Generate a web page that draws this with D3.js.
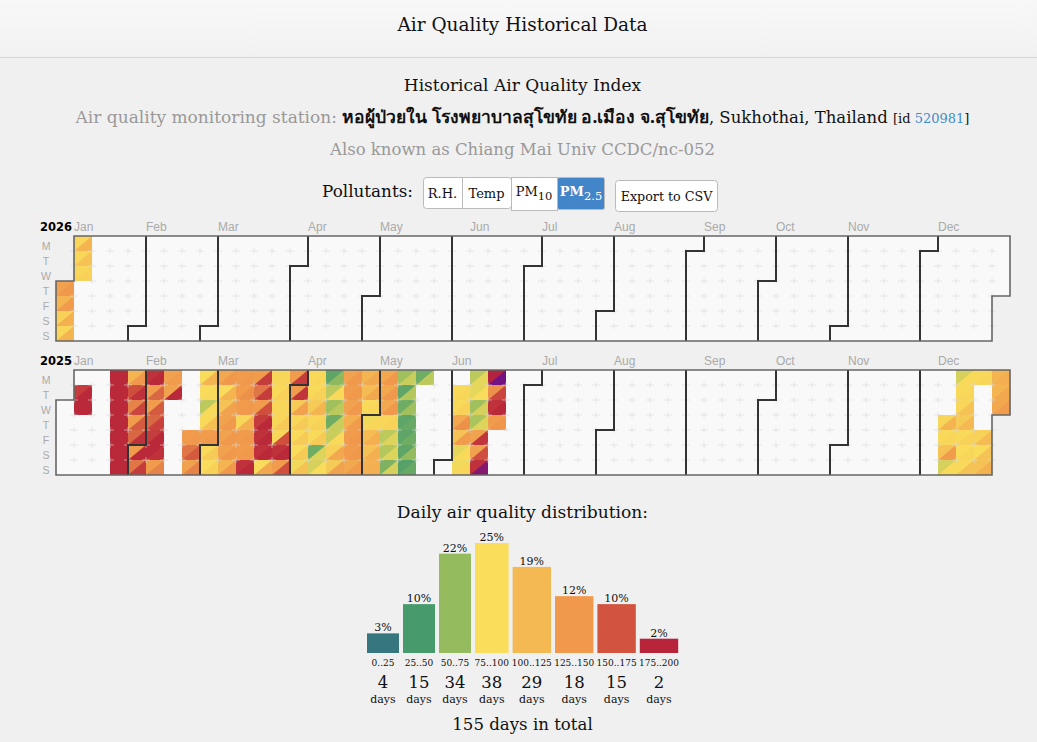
<!DOCTYPE html>
<html>
<head>
<meta charset="utf-8">
<script src="https://cdn.jsdelivr.net/npm/d3@7"></script>
<style>
  html, body { margin: 0; padding: 0; background: #f0f0f0; overflow: hidden; }
  svg { display: block; }
  .serif { font-family: "DejaVu Serif", "Liberation Serif", serif; }
  .sans { font-family: "Liberation Sans", Arial, sans-serif; }
</style>
</head>
<body>
<div id="chart"></div>
<script>
// Data. Each week is Monday..Sunday, null = no reading
const noWeek = [null, null, null, null, null, null, null];

const upper2026 = [
  [null, null, null, 130, 115, 95, 92],
  [92, 92, 92, null, null, null, null],
];
const lower2026 = [
  [null, null, null, 137, 135, 120, 115],
  [115, 105, 95, null, null, null, null],
];

const upper2025 = [
  noWeek,
  [null, 175, 185, null, null, null, null],
  noWeek,
  [185, 185, 185, 185, 185, 185, 185],
  [115, 165, 145, 135, 155, 135, 150],
  [180, 135, 135, 155, 175, 185, 135],
  [130, 130, null, null, null, null, null],
  [null, null, null, null, 135, 150, 130],
  [88, 88, 72, 90, 135, 90, 88],
  [125, 88, 105, 130, 130, 130, 115],
  [135, 135, 135, 92, 135, 135, 180],
  [135, 150, 135, 175, 180, 180, 88],
  [92, 90, 92, 92, 92, 180, 135],
  [135, 135, 100, 92, 90, 88, 85],
  [90, 90, 100, 92, 90, 50, 78],
  [45, 72, 65, 50, 75, 95, 100],
  [130, 135, 130, 120, 135, 135, 125],
  [115, 110, 90, 85, 110, 105, 118],
  [125, 125, 125, 92, 72, 70, 55],
  [65, 45, 50, 45, 45, 45, 42],
  [50, null, null, null, null, null, null],
  noWeek,
  [null, 90, 90, 125, 105, 82, 85],
  [72, 82, 65, 68, 130, 130, 180],
  [190, 140, 180, 135, null, null, null],
  ...d3.range(24).map(() => noWeek),
  [null, null, null, 92, 90, 105, 78],
  [78, 90, 92, 100, 90, 88, 90],
  [90, null, null, null, 95, 88, 105],
  [115, 115, 125, null, null, null, null],
];
const lower2025 = [
  noWeek,
  [null, 185, 185, null, null, null, null],
  noWeek,
  [185, 185, 185, 185, 185, 185, 185],
  [137, 180, 170, 160, 180, 185, 175],
  [185, 155, 160, 172, 185, 180, 145],
  [135, 185, null, null, null, null, null],
  [null, null, null, null, 137, 160, 145],
  [115, 90, 90, 108, 137, 100, 95],
  [137, 115, 130, 137, 137, 137, 137],
  [137, 140, 137, 120, 137, 137, 185],
  [175, 175, 165, 185, 185, 185, 125],
  [92, 95, 92, 100, 165, 185, 165],
  [175, 178, 130, 100, 100, 100, 105],
  [92, 95, 115, 95, 100, 80, 88],
  [60, 90, 72, 75, 90, 125, 130],
  [137, 137, 137, 135, 137, 137, 135],
  [125, 125, 92, 92, 120, 120, 120],
  [137, 137, 137, 95, 80, 80, 78],
  [75, 70, 65, 48, 50, 62, 48],
  [72, null, null, null, null, null, null],
  noWeek,
  [null, 92, 95, 140, 135, 90, 92],
  [82, 88, 78, 80, 178, 165, 215],
  [225, 170, 185, 138, null, null, null],
  ...d3.range(24).map(() => noWeek),
  [null, null, null, 115, 92, 135, 90],
  [90, 92, 105, 112, 95, 92, 105],
  [92, null, null, null, 110, 105, 118],
  [120, 125, 135, null, null, null, null],
];

const weekdayLabels = ["M", "T", "W", "T", "F", "S", "S"];
const monthLabels = ["Jan", "Feb", "Mar", "Apr", "May", "Jun", "Jul", "Aug", "Sep", "Oct", "Nov", "Dec"];

const binLabels = ["0..25", "25..50", "50..75", "75..100", "100..125", "125..150", "150..175", "175..200"];
const binDays = [4, 15, 34, 38, 29, 18, 15, 2];
const binPercent = [3, 10, 22, 25, 19, 12, 10, 2];
const binColors = ["#35767f", "#469a6b", "#94bc5e", "#f9dd5b", "#f4b952", "#f0994c", "#d2543f", "#b8253a"];

const aqiStops = [12, 37, 62, 87, 112, 137, 162, 187, 230];
const aqiColors = [...binColors, "#6a0f8c"];

// Page setup
const width = 1037;
const height = 742;

const svg = d3.select("#chart").append("svg")
  .attr("width", width)
  .attr("height", height);

const gradient = svg.append("defs").append("linearGradient")
  .attr("id", "head")
  .attr("x1", 0).attr("x2", 0).attr("y1", 0).attr("y2", 1);
gradient.append("stop").attr("offset", "0%").attr("stop-color", "#f8f8f8");
gradient.append("stop").attr("offset", "100%").attr("stop-color", "#f1f1f1");

svg.append("rect").attr("width", width).attr("height", 57).attr("fill", "url(#head)");
svg.append("line").attr("x1", 0).attr("x2", width).attr("y1", 57.5).attr("y2", 57.5).attr("stroke", "#d4d4d4");

function label(x, y, text, size, color, cls) {
  return svg.append("text")
    .attr("class", cls || "serif")
    .attr("x", x).attr("y", y)
    .attr("text-anchor", "middle")
    .attr("font-size", size)
    .attr("fill", color || "#111")
    .text(text);
}

// Titles
label(522.5, 31, "Air Quality Historical Data", 18.5);
label(522.5, 91, "Historical Air Quality Index", 17);

const station = label(522.5, 123, "", 17, "#999");
station.append("tspan").text("Air quality monitoring station: ");
station.append("tspan").attr("fill", "#111").attr("font-size", 17.5).attr("font-family", "'Noto Sans', 'DejaVu Sans', sans-serif").attr("font-weight", "bold").text("หอผู้ป่วยใน โรงพยาบาลสุโขทัย อ.เมือง จ.สุโขทัย");
station.append("tspan").attr("fill", "#111").attr("font-size", 16.5).text(", Sukhothai, Thailand ");
station.append("tspan").attr("fill", "#111").attr("font-size", 13).text("[id ");
station.append("tspan").attr("fill", "#428bca").attr("font-size", 13).text("520981");
station.append("tspan").attr("fill", "#111").attr("font-size", 13).text("]");

label(522.5, 155, "Also known as Chiang Mai Univ CCDC/nc-052", 16.5, "#999");

// Pollutant buttons
label(367.5, 197, "Pollutants:", 16.8);

const buttonEdges = [423, 462, 511, 557, 605];
const buttonNames = [["R.H.", ""], ["Temp", ""], ["PM", "10"], ["PM", "2.5"]];

svg.append("rect")
  .attr("x", 423.5).attr("y", 177.5).attr("width", 88).attr("height", 31).attr("rx", 3)
  .attr("fill", "#fff").attr("stroke", "#bbb");
svg.append("line")
  .attr("x1", 462.5).attr("x2", 462.5).attr("y1", 178).attr("y2", 208).attr("stroke", "#bbb");
svg.append("rect")
  .attr("x", 511.5).attr("y", 177.5).attr("width", 46).attr("height", 33).attr("fill", "#fff").attr("stroke", "#bbb");
svg.append("rect")
  .attr("x", 557.5).attr("y", 177.5).attr("width", 47).attr("height", 32).attr("rx", 2).attr("fill", "#4285c9").attr("stroke", "#bbb");

buttonNames.forEach(([name, sub], i) => {
  const mid = (buttonEdges[i] + buttonEdges[i + 1]) / 2;
  const active = i === 3;
  const t = label(mid, i < 2 ? 198 : 196, "", 13, active ? "#fff" : "#111");
  const main = t.append("tspan").text(name);
  if (active) main.attr("font-weight", "bold");
  if (sub) t.append("tspan").attr("dy", 4).attr("font-size", 11.5).text(sub);
});

svg.append("rect")
  .attr("x", 615.5).attr("y", 180.5).attr("width", 102).attr("height", 31).attr("rx", 3)
  .attr("fill", "#fff").attr("stroke", "#bbb");
label(666.5, 201, "Export to CSV", 12.7);

// Calendars
const aqiColor = d3.scaleLinear().domain(aqiStops).range(aqiColors).clamp(true);

const x = d3.scaleLinear().domain([0, 53]).range([56, 1010]);

function drawYear(year, top, upper, lower) {
  const y = d3.scaleLinear().domain([0, 7]).range([top, top + 105]);
  const yearStart = new Date(year, 0, 1);
  const yearEnd = new Date(year + 1, 0, 1);
  const weekOf = (d) => d3.timeMonday.count(yearStart, d);
  const dayOf = (d) => (d.getDay() + 6) % 7;
  const days = d3.timeDay.range(yearStart, yearEnd);

  const g = svg.append("g");

  const cells = g.selectAll("g.day").data(days).enter().append("g").attr("class", "day");
  cells.append("rect")
    .attr("x", (d) => x(weekOf(d)))
    .attr("y", (d) => y(dayOf(d)))
    .attr("width", x(1) - x(0))
    .attr("height", y(1) - y(0))
    .attr("fill", "#f9f9f9");

  const reading = (table, d) => (table[weekOf(d)] || noWeek)[dayOf(d)];
  const withData = days.filter((d) => reading(upper, d) != null);

  g.selectAll("path.up").data(withData).enter().append("path")
    .attr("class", "up")
    .attr("d", (d) => {
      const [x0, x1, y0, y1] = [x(weekOf(d)), x(weekOf(d) + 1), y(dayOf(d)), y(dayOf(d) + 1)];
      return `M${x0},${y0}H${x1}V${y1}H${x0}Z`;
    })
    .attr("fill", (d) => aqiColor(reading(upper, d)));

  g.selectAll("path.down").data(withData).enter().append("path")
    .attr("class", "down")
    .attr("d", (d) => {
      const [x0, x1, y0, y1] = [x(weekOf(d)), x(weekOf(d) + 1), y(dayOf(d)), y(dayOf(d) + 1)];
      return `M${x1},${y0}V${y1}H${x0}Z`;
    })
    .attr("fill", (d) => aqiColor(reading(lower, d)));

  // little crosses on the cell corners
  const corners = d3.cross(d3.range(1, 53), d3.range(1, 7));
  g.selectAll("path.cross").data(corners).enter().append("path")
    .attr("class", "cross")
    .attr("d", ([w, r]) => `M${x(w) - 4},${y(r)}h8M${x(w)},${y(r) - 3}v6`)
    .attr("stroke", "#d8d8d8")
    .attr("stroke-width", 1)
    .attr("stroke-opacity", 0.6)
    .attr("fill", "none");

  // month separators
  const months = d3.timeMonth.range(yearStart, yearEnd);
  g.selectAll("path.month").data(months.slice(1)).enter().append("path")
    .attr("class", "month")
    .attr("d", (d) => {
      const w = weekOf(d);
      const r = dayOf(d);
      if (r === 0) return `M${x(w)},${y(0)}V${y(7)}`;
      return `M${x(w + 1)},${y(0)}V${y(r)}H${x(w)}V${y(7)}`;
    })
    .attr("fill", "none")
    .attr("stroke", "#333")
    .attr("stroke-width", 2);

  // outline of the whole year
  const last = new Date(year, 11, 31);
  const lastW = weekOf(last);
  const lastR = dayOf(last);
  const firstR = dayOf(yearStart);
  g.append("path")
    .attr("d", `M${x(1)},${y(0)}H${x(lastW + 1)}V${y(lastR + 1)}H${x(lastW)}V${y(7)}H${x(0)}V${y(firstR)}H${x(1)}Z`)
    .attr("fill", "none")
    .attr("stroke", "#666")
    .attr("stroke-width", 1.6);

  // labels
  g.selectAll("text.weekday").data(weekdayLabels).enter().append("text")
    .attr("class", "weekday sans")
    .attr("x", 46)
    .attr("y", (d, i) => y(i + 0.5) + 6)
    .attr("text-anchor", "middle")
    .attr("font-size", 10.5)
    .attr("fill", "#aaa")
    .text((d) => d);

  g.selectAll("text.monthname").data(months).enter().append("text")
    .attr("class", "monthname sans")
    .attr("x", (d) => x(weekOf(d) + 1))
    .attr("y", top - 5)
    .attr("font-size", 12)
    .attr("fill", "#aaa")
    .text((d, i) => monthLabels[i]);

  g.append("text")
    .attr("x", 40)
    .attr("y", top - 5)
    .attr("font-family", "'DejaVu Sans', sans-serif")
    .attr("font-weight", "bold")
    .attr("font-size", 11.5)
    .attr("fill", "#000")
    .text(year);
}

drawYear(2026, 236, upper2026, lower2026);
drawYear(2025, 370, upper2025, lower2025);

// Distribution
label(522.5, 518, "Daily air quality distribution:", 17.1);

const gap = 4;
const binWidth = binLabels.map((s) => Math.max(32, s.length * 4.8));
const binLeft = binWidth.map((w, i) => 367 + d3.sum(binWidth.slice(0, i)) + i * gap);

const barBase = 653;
const barY = d3.scaleLinear().domain([0, d3.max(binDays)]).range([barBase - 9, 543]);

const bins = svg.append("g").selectAll("g").data(binDays).enter().append("g");

bins.append("rect")
  .attr("x", (d, i) => binLeft[i])
  .attr("y", (d) => barY(d))
  .attr("width", (d, i) => binWidth[i])
  .attr("height", (d) => barBase - barY(d))
  .attr("fill", (d, i) => binColors[i]);

const mid = (i) => binLeft[i] + binWidth[i] / 2;

const binText = (y, size, text) => bins.append("text")
  .attr("class", "serif")
  .attr("x", (d, i) => mid(i))
  .attr("y", y)
  .attr("text-anchor", "middle")
  .attr("font-size", size)
  .attr("fill", "#111")
  .text(text);

bins.append("text")
  .attr("class", "serif")
  .attr("x", (d, i) => mid(i))
  .attr("y", (d) => barY(d) - 2)
  .attr("text-anchor", "middle")
  .attr("font-size", 11)
  .attr("fill", "#111")
  .text((d, i) => binPercent[i] + "%");

binText(666, 9, (d, i) => binLabels[i]);
binText(688, 16.5, (d) => d);
binText(703, 11, "days");

label(522.5, 730, `${d3.sum(binDays)} days in total`, 16.6);
</script>
</body>
</html>
